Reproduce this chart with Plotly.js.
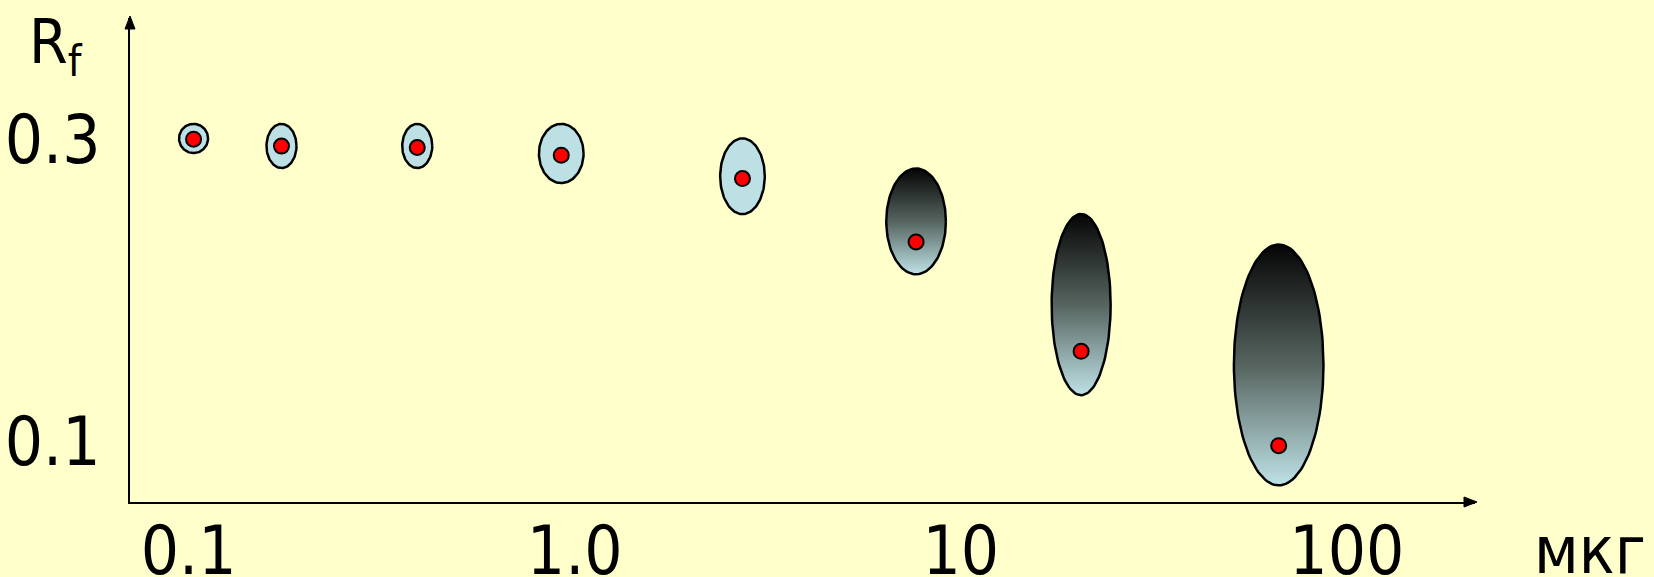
<!DOCTYPE html>
<html>
<head>
<meta charset="utf-8">
<script src="https://cdn.plot.ly/plotly-3.0.1.min.js"></script>
<style>
  html, body { margin: 0; padding: 0; background: #FFFFCC; }
  #chart { width: 1654px; height: 577px; }
</style>
</head>
<body>
<div id="chart"></div>
<script>
// ---- data ----
const amounts       = [0.103, 0.174, 0.391, 0.923, 2.72, 7.66, 20.5, 66.6];     // мкг
const rfValues      = [0.300, 0.2954, 0.2945, 0.2894, 0.274, 0.2321, 0.1599, 0.0976];
const spotTop       = [0.3101, 0.3101, 0.3101, 0.3101, 0.3005, 0.2806, 0.2506, 0.2304];
const spotBottom    = [0.2908, 0.2809, 0.2809, 0.2710, 0.2505, 0.2108, 0.1309, 0.0714];
const spotHalfWidth = [0.0376, 0.0389, 0.0389, 0.0578, 0.0578, 0.0772, 0.0764, 0.116]; // decades
const spotShaded    = [false, false, false, false, false, true, true, true];

const xTickVals  = [0.1, 1, 10, 100];
const xTickText  = ['0.1', '1.0', '10', '100'];
const yTickVals  = [0.1, 0.3];
const yTickText  = ['0.1', '0.3'];
const xUnitLabel = 'мкг';
const yAxisLabel = 'R<sub>f</sub>';

// ---- styling ----
const FONT = '"DejaVu Sans Condensed", "DejaVu Sans", Verdana, sans-serif';
const BG = '#FFFFCC';
const SPOT_LIGHT = '#BCE0E4';

const traces = [];
for (let i = 0; i < amounts.length; i++) {
  const N = 120;
  const lc = Math.log10(amounts[i]);
  const yc = (spotTop[i] + spotBottom[i]) / 2;
  const ry = (spotTop[i] - spotBottom[i]) / 2;
  const xs = [], ys = [];
  for (let k = 0; k <= N; k++) {
    const t = 2 * Math.PI * k / N;
    xs.push(Math.pow(10, lc + spotHalfWidth[i] * Math.cos(t)));
    ys.push(yc + ry * Math.sin(t));
  }
  const tr = {
    type: 'scatter', mode: 'lines', x: xs, y: ys,
    fill: 'toself',
    line: { color: '#000000', width: 2.5 },
    hoverinfo: 'skip', showlegend: false
  };
  if (spotShaded[i]) {
    tr.fillgradient = { type: 'vertical', colorscale: [[0, '#BEE2E6'], [0.5, '#56645F'], [1, '#050505']] };
  } else {
    tr.fillcolor = SPOT_LIGHT;
  }
  traces.push(tr);
}
traces.push({
  type: 'scatter', mode: 'markers', x: amounts, y: rfValues,
  marker: { color: '#FF0000', size: 15, line: { color: '#000000', width: 2 } },
  hoverinfo: 'skip', showlegend: false
});

const layout = {
  width: 1654, height: 577,
  paper_bgcolor: BG, plot_bgcolor: BG,
  margin: { l: 130, r: 179, t: 18, b: 75, pad: 0 },
  font: { family: FONT, color: '#000000' },
  xaxis: {
    type: 'log', range: [-1.1518, 2.3319],
    showgrid: false, zeroline: false,
    showline: true, linecolor: '#000000', linewidth: 2,
    ticks: '', tickmode: 'array', tickvals: xTickVals, ticktext: xTickText,
    tickfont: { family: FONT, size: 67, color: '#000000' },
    ticklabelstandoff: -10
  },
  yaxis: {
    range: [0.0604, 0.3800],
    showgrid: false, zeroline: false,
    showline: true, linecolor: '#000000', linewidth: 2,
    ticks: '', tickmode: 'array', tickvals: yTickVals, ticktext: yTickText,
    tickfont: { family: FONT, size: 67, color: '#000000' },
    ticklabelstandoff: 14
  },
  shapes: [
    // arrowhead at the end of the x axis
    { type: 'path', xref: 'paper', yref: 'paper',
      xsizemode: 'pixel', ysizemode: 'pixel', xanchor: 1, yanchor: 0,
      path: 'M2,0 L-11,5 L-11,-5 Z',
      fillcolor: '#000000', line: { color: '#000000', width: 1 } },
    // arrowhead at the top of the y axis
    { type: 'path', xref: 'paper', yref: 'paper',
      xsizemode: 'pixel', ysizemode: 'pixel', xanchor: 0, yanchor: 1,
      path: 'M0,2 L-5,-11 L5,-11 Z',
      fillcolor: '#000000', line: { color: '#000000', width: 1 } }
  ],
  annotations: [
    { xref: 'paper', yref: 'paper', x: (1590 - 130) / 1345, y: (501.7 - 550) / 484,
      xanchor: 'center', yanchor: 'middle', showarrow: false,
      text: xUnitLabel, font: { family: FONT, size: 66, color: '#000000' } },
    { xref: 'paper', yref: 'paper', x: (27 - 130) / 1345, y: (501.7 - 45) / 484,
      xanchor: 'left', yanchor: 'middle', showarrow: false,
      text: yAxisLabel, font: { family: FONT, size: 62, color: '#000000' } }
  ]
};

Plotly.newPlot('chart', traces, layout, { displayModeBar: false, staticPlot: true });
</script>
</body>
</html>
